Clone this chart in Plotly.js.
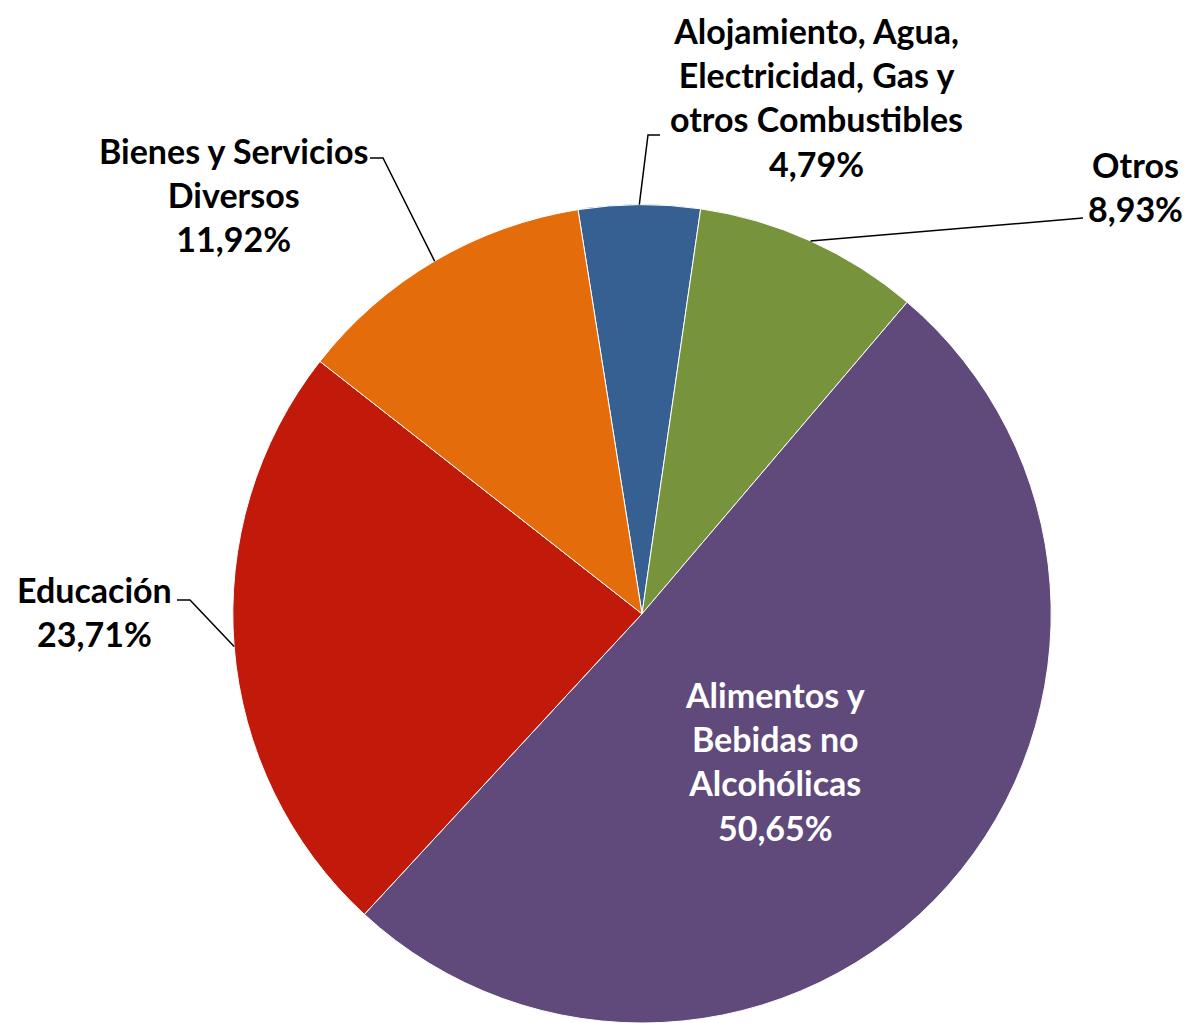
<!DOCTYPE html>
<html><head><meta charset="utf-8">
<script src="https://cdn.plot.ly/plotly-3.0.1.min.js"></script>
<style>html,body{margin:0;padding:0;background:#fff}#chart{width:1190px;height:1023px}</style>
</head><body><div id="chart"></div>
<script>
const categories = ['Alojamiento, Agua,<br>Electricidad, Gas y<br>otros Combustibles', 'Otros', 'Alimentos y<br>Bebidas no<br>Alcohólicas', 'Educación', 'Bienes y Servicios<br>Diversos'];
const values = [4.79, 8.93, 50.65, 23.71, 11.92];
const valueLabels = ['4,79%', '8,93%', '50,65%', '23,71%', '11,92%'];
const colors = ['#376092', '#77933C', '#604A7B', '#C1190A', '#E46C0A'];

const W = 1190, H = 1023;
const domX = [0.195, 0.884], domY = [0, 0.8];
const rotation = -9;
const FONT = 'Lato, "Open Sans", sans-serif';
const FS = 34;

const trace = {
  type: 'pie', values: values, labels: categories.map(s => s.replace(/<br>/g, ' ')),
  sort: false, direction: 'clockwise', rotation: rotation,
  marker: {colors: colors, line: {color: '#ffffff', width: 1}},
  textinfo: 'none',
  domain: {x: domX, y: domY}, hoverinfo: 'label+value', showlegend: false
};

// geometry from domain
const cx = (domX[0] + domX[1]) / 2 * W;
const cy = (1 - (domY[0] + domY[1]) / 2) * H;
const r = Math.min((domX[1] - domX[0]) * W, (domY[1] - domY[0]) * H) / 2;
const total = values.reduce((a, b) => a + b, 0);
let cum = 0;
const anchors = values.map(v => {
  const mid = (rotation + (cum + v / 2) / total * 360) * Math.PI / 180;
  cum += v;
  return [cx + r * Math.sin(mid), cy - r * Math.cos(mid)];
});
const px = x => x / W, py = y => 1 - y / H;

// label placement (layout): [index, labelX, labelY, elbowX, elbowY, endX, endY, color, leader]
const place = [
  [0, 816, 97, 648, 135, 660, 135, '#000000', true],
  [1, 1135, 186, 1083, 218, 1083, 218, '#000000', true],
  [2, 775, 761, 0, 0, 0, 0, '#ffffff', false],
  [3, 95, 611, 190, 600, 177, 600, '#000000', true],
  [4, 233, 194, 383, 158, 370, 158, '#000000', true]
];
const annotations = place.map(p => ({
  xref: 'paper', yref: 'paper', x: px(p[1]), y: py(p[2]), xanchor: 'center', yanchor: 'middle',
  text: '<b>' + categories[p[0]] + '<br>' + valueLabels[p[0]] + '</b>', showarrow: false,
  font: {family: FONT, size: FS, color: p[7]}, align: 'center'
}));
const shapes = place.filter(p => p[8]).map(p => {
  const a = anchors[p[0]];
  return {type: 'path', xref: 'paper', yref: 'paper',
    path: `M ${px(a[0])} ${py(a[1])} L ${px(p[3])} ${py(p[4])} L ${px(p[5])} ${py(p[6])}`,
    line: {color: '#000000', width: 1.5}};
});

Plotly.newPlot('chart', [trace], {
  width: W, height: H, margin: {l: 0, r: 0, t: 0, b: 0},
  paper_bgcolor: '#ffffff', annotations: annotations, shapes: shapes,
  font: {family: FONT}
}, {displayModeBar: false, staticPlot: true});
</script></body></html>
